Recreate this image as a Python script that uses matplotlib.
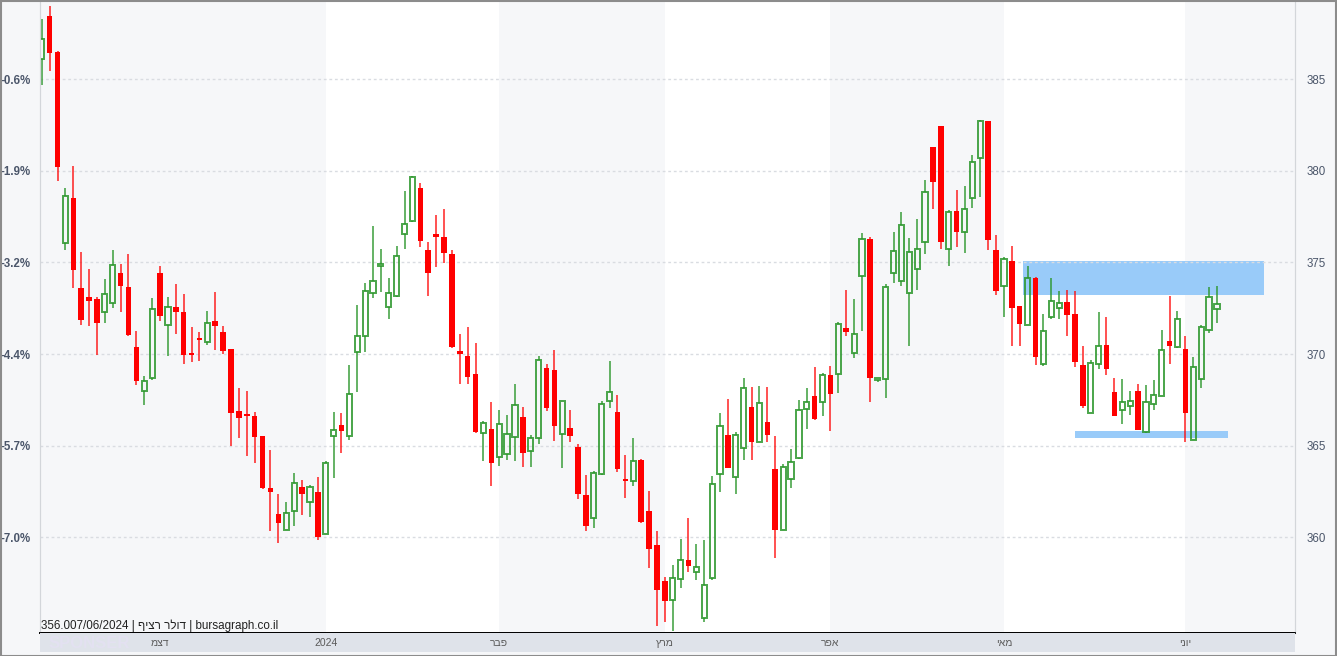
import matplotlib
matplotlib.use("Agg")
import matplotlib.pyplot as plt
from matplotlib.patches import Rectangle

plt.rcParams['font.family'] = ['Liberation Sans', 'DejaVu Sans']

# daily candles, USD/ILS continuous
opens = [386.07, 388.41, 386.50, 376.07, 378.51, 373.59, 373.10, 373.01, 372.30, 372.79,
         374.41, 373.67, 370.37, 368.00, 368.72, 374.41, 371.60, 372.58, 372.30, 370.00,
         370.80, 370.67, 371.78, 371.21, 370.28, 366.92, 366.73, 366.61, 365.54, 362.71,
         361.27, 360.41, 361.46, 362.77, 361.93, 362.48, 360.20, 365.56, 366.12, 365.56,
         370.12, 370.97, 373.35, 374.81, 372.59, 373.17, 376.53, 377.24, 379.06, 375.70,
         376.53, 376.40, 375.48, 370.17, 369.90, 368.89, 365.67, 365.91, 364.41, 364.55,
         365.50, 366.57, 364.72, 365.41, 369.23, 369.13, 365.66, 365.96, 364.91, 362.30,
         361.07, 363.47, 367.42, 366.83, 363.14, 363.10, 364.22, 361.44, 359.57, 357.65,
         356.58, 357.72, 358.77, 358.11, 355.59, 357.80, 363.44, 365.59, 363.30, 364.89,
         367.10, 365.22, 366.29, 363.75, 360.43, 363.17, 364.32, 366.99, 367.72, 367.37,
         368.87, 368.94, 371.43, 370.07, 374.25, 376.29, 368.60, 368.62, 374.44, 374.00,
         373.34, 374.62, 376.11, 381.27, 382.42, 375.72, 377.80, 376.64, 378.53, 380.68,
         382.70, 375.69, 373.72, 375.06, 372.61, 371.60, 374.15, 369.46, 372.01, 372.50,
         372.86, 372.17, 369.38, 366.81, 369.47, 370.47, 367.93, 366.94, 367.17, 367.99,
         365.76, 367.30, 367.72, 370.74, 370.38, 370.25, 365.31, 368.66, 371.34, 372.46]
highs = [388.28, 388.96, 386.55, 379.05, 380.26, 375.58, 374.63, 373.10, 374.08, 375.66,
         374.92, 375.44, 371.25, 368.81, 373.05, 374.80, 373.10, 373.83, 373.26, 371.45,
         371.21, 372.36, 373.40, 371.53, 370.30, 368.13, 367.98, 366.86, 365.56, 364.78,
         362.36, 361.95, 363.51, 363.16, 362.87, 363.32, 364.19, 366.85, 366.77, 369.40,
         372.65, 373.86, 376.96, 375.75, 374.13, 375.88, 378.92, 379.70, 379.35, 376.10,
         377.56, 377.92, 375.66, 371.11, 371.47, 370.62, 366.34, 367.37, 366.94, 366.67,
         368.38, 367.10, 365.59, 369.88, 369.45, 370.20, 367.44, 366.94, 365.07, 363.42,
         363.60, 367.46, 369.61, 367.79, 364.48, 365.44, 364.29, 362.51, 360.37, 357.86,
         358.49, 359.89, 361.07, 359.63, 359.84, 363.35, 366.76, 367.56, 365.73, 368.71,
         368.23, 368.26, 368.23, 365.54, 363.98, 364.84, 367.47, 368.15, 369.30, 368.96,
         369.35, 371.77, 373.49, 373.01, 376.61, 376.40, 368.70, 373.80, 376.64, 377.74,
         376.31, 377.36, 379.50, 381.30, 382.45, 377.83, 378.95, 379.17, 380.83, 382.75,
         382.72, 376.51, 375.27, 375.90, 372.62, 374.83, 374.20, 372.17, 374.13, 373.46,
         373.51, 373.46, 370.43, 369.69, 372.28, 372.01, 368.70, 368.66, 367.99, 368.39,
         368.33, 368.61, 371.32, 373.15, 372.37, 370.98, 369.84, 371.56, 373.64, 373.70]
lows = [384.65, 385.43, 379.44, 375.70, 373.63, 371.60, 371.54, 369.93, 371.72, 372.54,
        372.32, 371.00, 368.29, 367.20, 368.56, 371.78, 369.89, 371.12, 369.44, 369.59,
        369.65, 370.47, 370.22, 370.02, 364.97, 365.40, 364.43, 364.08, 362.65, 360.33,
        359.71, 360.40, 360.62, 361.25, 361.09, 359.84, 360.20, 363.26, 364.62, 365.30,
        367.95, 370.12, 373.04, 373.37, 371.94, 373.10, 375.74, 377.20, 375.84, 373.19,
        374.76, 374.98, 370.35, 368.35, 368.35, 365.70, 364.19, 362.78, 363.92, 364.25,
        364.18, 363.86, 363.86, 365.11, 366.92, 365.25, 363.81, 365.20, 362.08, 360.34,
        360.50, 363.40, 367.06, 363.58, 362.15, 362.79, 360.80, 358.31, 355.18, 355.41,
        354.88, 357.24, 358.11, 357.67, 355.40, 357.70, 362.49, 363.80, 362.35, 364.21,
        364.21, 365.20, 365.23, 358.87, 360.40, 362.67, 364.30, 365.93, 366.40, 366.63,
        365.82, 367.87, 370.99, 369.80, 371.25, 367.40, 368.50, 367.63, 373.85, 373.74,
        370.44, 373.52, 375.45, 377.89, 375.74, 374.81, 375.83, 375.50, 377.94, 378.59,
        375.69, 373.21, 372.03, 370.45, 370.45, 371.60, 369.40, 369.35, 371.90, 371.92,
        371.00, 369.29, 367.08, 366.80, 369.20, 368.84, 366.60, 366.21, 366.67, 365.85,
        365.70, 366.94, 367.70, 369.44, 370.33, 365.18, 365.30, 368.17, 371.16, 371.70]
closes = [387.20, 386.40, 380.18, 378.64, 374.61, 371.84, 372.89, 371.72, 373.28, 374.86,
          373.69, 371.06, 368.52, 368.52, 372.48, 372.07, 372.58, 372.32, 369.93, 369.95,
          370.76, 371.70, 371.54, 370.18, 366.81, 366.53, 366.61, 365.50, 362.71, 362.50,
          360.80, 361.35, 362.96, 362.38, 362.75, 360.04, 364.08, 365.87, 365.79, 367.84,
          370.97, 373.46, 373.98, 374.85, 373.35, 375.34, 377.07, 379.64, 376.17, 374.44,
          376.39, 375.52, 370.41, 369.99, 368.74, 365.76, 366.23, 364.05, 366.18, 365.64,
          367.24, 364.61, 365.41, 369.68, 367.06, 366.10, 367.44, 365.52, 362.35, 360.60,
          363.54, 367.28, 367.92, 363.75, 363.08, 364.18, 360.82, 359.38, 357.14, 356.55,
          357.79, 358.79, 358.47, 358.38, 357.39, 362.90, 366.08, 363.80, 365.59, 368.17,
          365.23, 367.33, 365.57, 360.39, 363.84, 364.09, 366.94, 367.38, 366.47, 368.84,
          367.83, 371.63, 371.22, 371.09, 376.25, 368.70, 368.66, 373.67, 375.60, 377.03,
          375.54, 375.71, 378.86, 379.41, 376.11, 377.76, 376.66, 377.93, 380.46, 382.72,
          376.24, 373.43, 375.20, 372.52, 371.66, 374.13, 369.83, 371.27, 372.90, 372.77,
          372.14, 369.58, 367.17, 369.53, 370.45, 369.20, 366.61, 367.39, 367.43, 365.85,
          367.39, 367.79, 370.24, 370.42, 371.92, 366.76, 369.29, 371.47, 373.10, 372.74]

# month labels (Hebrew) and the candle index where each month starts
month_names = ['דצמ', '2024', 'פבר', 'מרץ', 'אפר', 'מאי', 'יוני']
month_starts = [15, 36, 58, 79, 100, 122, 145]

price_ticks = [360, 365, 370, 375, 380, 385]

# highlighted zones: (start idx, end idx, low price, high price)
resistance_zone = (124.4, 155.0, 373.22, 375.05)
support_zone = (131.0, 150.4, 365.43, 365.82)

footer_price = '356.0'
footer_text = '07/06/2024 | דולר רציף | bursagraph.co.il'


def rtl(s):
    # matplotlib has no bidi support, flip Hebrew runs for display
    out, run = [], []
    for ch in s:
        if '\u0590' <= ch <= '\u05ff' or (run and ch == ' '):
            run.append(ch)
        else:
            if run:
                trail = []
                while run and run[-1] == ' ':
                    trail.append(run.pop())
                out.append(''.join(reversed(run)) + ''.join(trail))
                run = []
            out.append(ch)
    if run:
        out.append(''.join(reversed(run)))
    return ''.join(out)


W, H = 1337, 656
BG = '#f6f7f9'
fig = plt.figure(figsize=(W / 100, H / 100), dpi=100, facecolor=BG)

ax = fig.add_axes([40 / W, 23 / H, 1255 / W, 631 / H])
ax.set_facecolor(BG)
ax.set_xlim(-0.22, 158.9)
ax.set_ylim(354.79, 389.20)

# alternate month shading
edges = month_starts + [ax.get_xlim()[1]]
for i in range(len(month_starts)):
    if i % 2 == 1:
        ax.axvspan(edges[i], edges[i + 1], color='white', zorder=0, lw=0)

ax.set_yticks(price_ticks)
ax.grid(axis='y', color='#d9dce1', linestyle=(0, (2, 2)), linewidth=1.0, zorder=0.5)
ax.set_xticks([])

for z in (resistance_zone, support_zone):
    ax.add_patch(Rectangle((z[0], z[2]), z[1] - z[0], z[3] - z[2],
                           facecolor='#99cbf9', edgecolor='none', zorder=1))

# candles
up_col, down_col = '#2a962a', '#ff0000'
for i in range(len(opens)):
    o, h, l, c = opens[i], highs[i], lows[i], closes[i]
    lo_b, hi_b = min(o, c), max(o, c)
    if hi_b - lo_b < 0.1:
        hi_b = lo_b + 0.1
    if c >= o:
        ax.vlines(i, hi_b, h, color=up_col, lw=1.2, zorder=2, alpha=0.85)
        ax.vlines(i, l, lo_b, color=up_col, lw=1.2, zorder=2, alpha=0.85)
        ax.bar(i, hi_b - lo_b, bottom=lo_b, width=0.66, facecolor='none',
               edgecolor=up_col, linewidth=1.4, zorder=3, alpha=0.85)
    else:
        ax.vlines(i, l, h, color=down_col, lw=1.2, zorder=2, alpha=0.8)
        ax.bar(i, hi_b - lo_b, bottom=lo_b, width=0.7, color=down_col,
               linewidth=0, zorder=3)

base = closes[0]
ax.set_yticklabels(['%.1f%%' % ((t / base - 1) * 100) for t in price_ticks])
ax.tick_params(axis='y', length=0, pad=7, labelsize=8.3, labelcolor='#4b566a')
for lab in ax.get_yticklabels():
    lab.set_fontweight('bold')

ax2 = ax.twinx()
ax2.set_ylim(ax.get_ylim())
ax2.set_yticks(price_ticks)
ax2.set_yticklabels([str(t) for t in price_ticks])
ax2.tick_params(axis='y', length=0, pad=8.5, labelsize=8.3, labelcolor='#4b566a')

for a in (ax, ax2):
    a.spines['top'].set_visible(False)
    a.spines['left'].set_color('#d3d6da')
    a.spines['right'].set_color('#d3d6da')
    a.spines['bottom'].set_color('black')
    a.spines['bottom'].set_linewidth(1.3)

# month strip under the plot
axm = fig.add_axes([40 / W, 4 / H, 1255 / W, 19 / H])
axm.set_facecolor('#dfe3ea')
axm.set_xlim(ax.get_xlim())
axm.set_ylim(0, 1)
axm.set_xticks([])
axm.set_yticks([])
for s in axm.spines.values():
    s.set_visible(False)
axm.text(6, 0.45, 'SPONSER', fontsize=12, color='#e3e1f1', ha='center', va='center',
         fontweight='bold', zorder=0)
for name, pos in zip(month_names, month_starts):
    axm.text(pos, 0.45, rtl(name), fontsize=7.5, color='#5a5a5a', ha='center', va='center')

fig.text(41 / W, 27 / H, footer_price + rtl(footer_text), fontsize=8.4,
         color='#222222', va='baseline')

# outer frame
fig.add_artist(Rectangle((0.5 / W, 0.5 / H), 1 - 1.5 / W, 1 - 1.5 / H, transform=fig.transFigure,
                         fill=False, edgecolor='#8c8c8c', linewidth=1.5))

fig.savefig('out.png', dpi=100, facecolor=BG)
